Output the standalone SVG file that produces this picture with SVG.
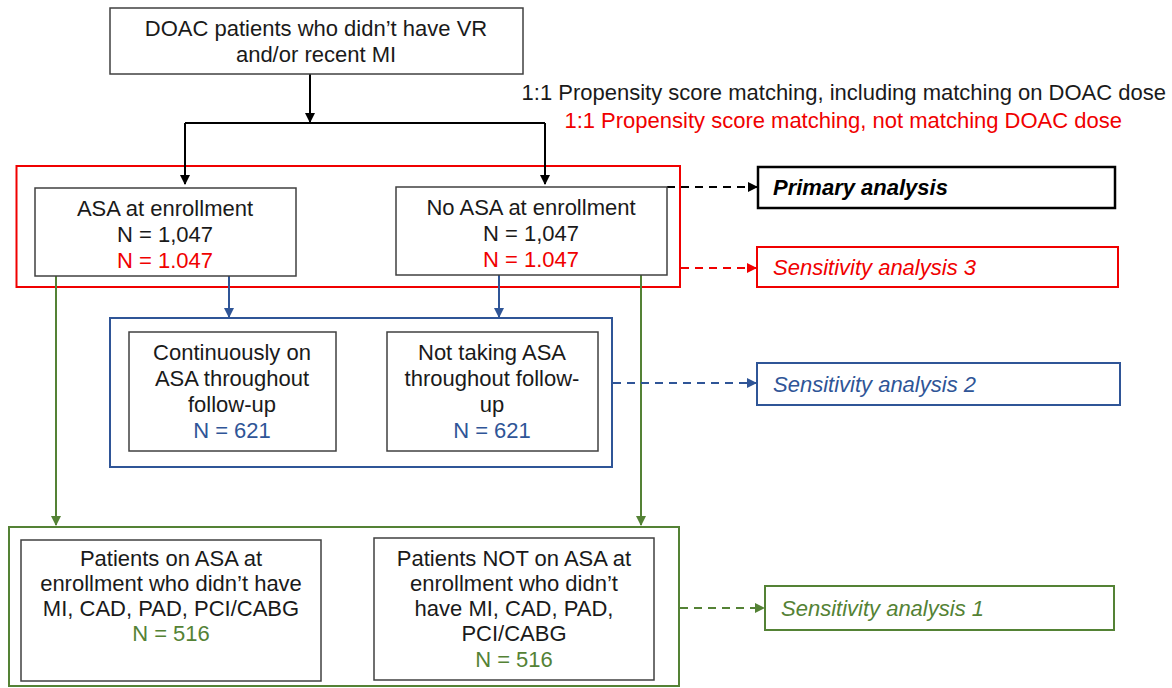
<svg xmlns="http://www.w3.org/2000/svg" width="1172" height="688" viewBox="0 0 1172 688">
<style>
text{font-family:"Liberation Sans",Arial,sans-serif;font-size:22px;fill:#1a1a1a}
.c{text-anchor:middle}
.node{fill:#fff;stroke:#404040;stroke-width:1.5}
.red{fill:#f00000}
.blue{fill:#2f5597}
.green{fill:#548235}
.it{font-style:italic;font-size:22px}
.ln{fill:none;stroke-width:2}
</style>
<defs>
<marker id="ak" markerWidth="10" markerHeight="10" refX="9" refY="5" orient="auto" markerUnits="userSpaceOnUse"><path d="M0,0L10,5L0,10z" fill="#000"/></marker>
<marker id="ar" markerWidth="10" markerHeight="10" refX="9" refY="5" orient="auto" markerUnits="userSpaceOnUse"><path d="M0,0L10,5L0,10z" fill="#f00000"/></marker>
<marker id="ab" markerWidth="10" markerHeight="10" refX="9" refY="5" orient="auto" markerUnits="userSpaceOnUse"><path d="M0,0L10,5L0,10z" fill="#2f5597"/></marker>
<marker id="ag" markerWidth="10" markerHeight="10" refX="9" refY="5" orient="auto" markerUnits="userSpaceOnUse"><path d="M0,0L10,5L0,10z" fill="#548235"/></marker>
</defs>
<rect width="1172" height="688" fill="#fff"/>

<g id="group-red"><rect x="16.5" y="166" width="663.5" height="121" fill="none" stroke="#f00000" stroke-width="2"/></g>
<g id="group-blue"><rect x="110" y="318" width="502" height="149" fill="none" stroke="#2f5597" stroke-width="2"/></g>
<g id="group-green"><rect x="9" y="527" width="670" height="159" fill="none" stroke="#548235" stroke-width="2"/></g>

<g id="connectors">
<path class="ln" stroke="#000" d="M310,74V122" marker-end="url(#ak)"/>
<path class="ln" stroke="#000" d="M185,123H545"/>
<path class="ln" stroke="#000" d="M185,123V184" marker-end="url(#ak)"/>
<path class="ln" stroke="#000" d="M545,123V184" marker-end="url(#ak)"/>
<path class="ln" stroke="#2f5597" d="M229,276V317" marker-end="url(#ab)"/>
<path class="ln" stroke="#2f5597" d="M499,275V317" marker-end="url(#ab)"/>
<path class="ln" stroke="#548235" d="M56,276V525" marker-end="url(#ag)"/>
<path class="ln" stroke="#548235" d="M641,275V525" marker-end="url(#ag)"/>
<path class="ln" stroke="#000" stroke-dasharray="8,6" d="M667,187H757" marker-end="url(#ak)"/>
<path class="ln" stroke="#f00000" stroke-dasharray="8,6" d="M681,268H756" marker-end="url(#ar)"/>
<path class="ln" stroke="#2f5597" stroke-dasharray="8,6" d="M613,383H756" marker-end="url(#ab)"/>
<path class="ln" stroke="#548235" stroke-dasharray="8,6" d="M680,608H764" marker-end="url(#ag)"/>
</g>

<g id="legend">
<text x="1166" y="100" text-anchor="end">1:1 Propensity score matching, including matching on DOAC dose</text>
<text x="1122" y="128" text-anchor="end" class="red">1:1 Propensity score matching, not matching DOAC dose</text>
</g>

<g id="n-top"><rect class="node" x="110" y="8" width="413" height="66"/>
<text class="c" x="316" y="36">DOAC patients who didn’t have VR</text>
<text class="c" x="316" y="62">and/or recent MI</text></g>

<g id="n-asa"><rect class="node" x="35" y="188" width="261" height="88"/>
<text class="c" x="165" y="216">ASA at enrollment</text>
<text class="c" x="165" y="242">N = 1,047</text>
<text class="c red" x="165" y="268">N = 1.047</text></g>

<g id="n-noasa"><rect class="node" x="396" y="187" width="271" height="88"/>
<text class="c" x="531" y="215">No ASA at enrollment</text>
<text class="c" x="531" y="241">N = 1,047</text>
<text class="c red" x="531" y="267">N = 1.047</text></g>

<g id="n-cont"><rect class="node" x="129" y="332" width="207" height="119"/>
<text class="c" x="232" y="360">Continuously on</text>
<text class="c" x="232" y="386">ASA throughout</text>
<text class="c" x="232" y="412">follow-up</text>
<text class="c blue" x="232" y="438">N = 621</text></g>

<g id="n-nottaking"><rect class="node" x="387" y="332" width="211" height="119"/>
<text class="c" x="492" y="360">Not taking ASA</text>
<text class="c" x="492" y="386">throughout follow-</text>
<text class="c" x="492" y="412">up</text>
<text class="c blue" x="492" y="438">N = 621</text></g>

<g id="n-pon"><rect class="node" x="21" y="540" width="300" height="141"/>
<text class="c" x="171" y="566">Patients on ASA at</text>
<text class="c" x="171" y="591">enrollment who didn’t have</text>
<text class="c" x="171" y="616">MI, CAD, PAD, PCI/CABG</text>
<text class="c green" x="171" y="641">N = 516</text></g>

<g id="n-pnot"><rect class="node" x="374" y="538" width="280" height="142"/>
<text class="c" x="514" y="566">Patients NOT on ASA at</text>
<text class="c" x="514" y="591">enrollment who didn’t</text>
<text class="c" x="514" y="616">have MI, CAD, PAD,</text>
<text class="c" x="514" y="641">PCI/CABG</text>
<text class="c green" x="514" y="667">N = 516</text></g>

<g id="n-primary"><rect x="758" y="167" width="357" height="41" fill="#fff" stroke="#000" stroke-width="2.5"/>
<text x="773" y="195" style="font-weight:bold;font-style:italic;fill:#000">Primary analysis</text></g>

<g id="n-s3"><rect x="757" y="247" width="361" height="40" fill="#fff" stroke="#f00000" stroke-width="2"/>
<text x="773" y="275" class="it red">Sensitivity analysis 3</text></g>

<g id="n-s2"><rect x="757" y="363" width="363" height="42" fill="#fff" stroke="#2f5597" stroke-width="2"/>
<text x="773" y="392" class="it blue">Sensitivity analysis 2</text></g>

<g id="n-s1"><rect x="765" y="586" width="349" height="44" fill="#fff" stroke="#548235" stroke-width="2"/>
<text x="781" y="616" class="it green">Sensitivity analysis 1</text></g>
</svg>
